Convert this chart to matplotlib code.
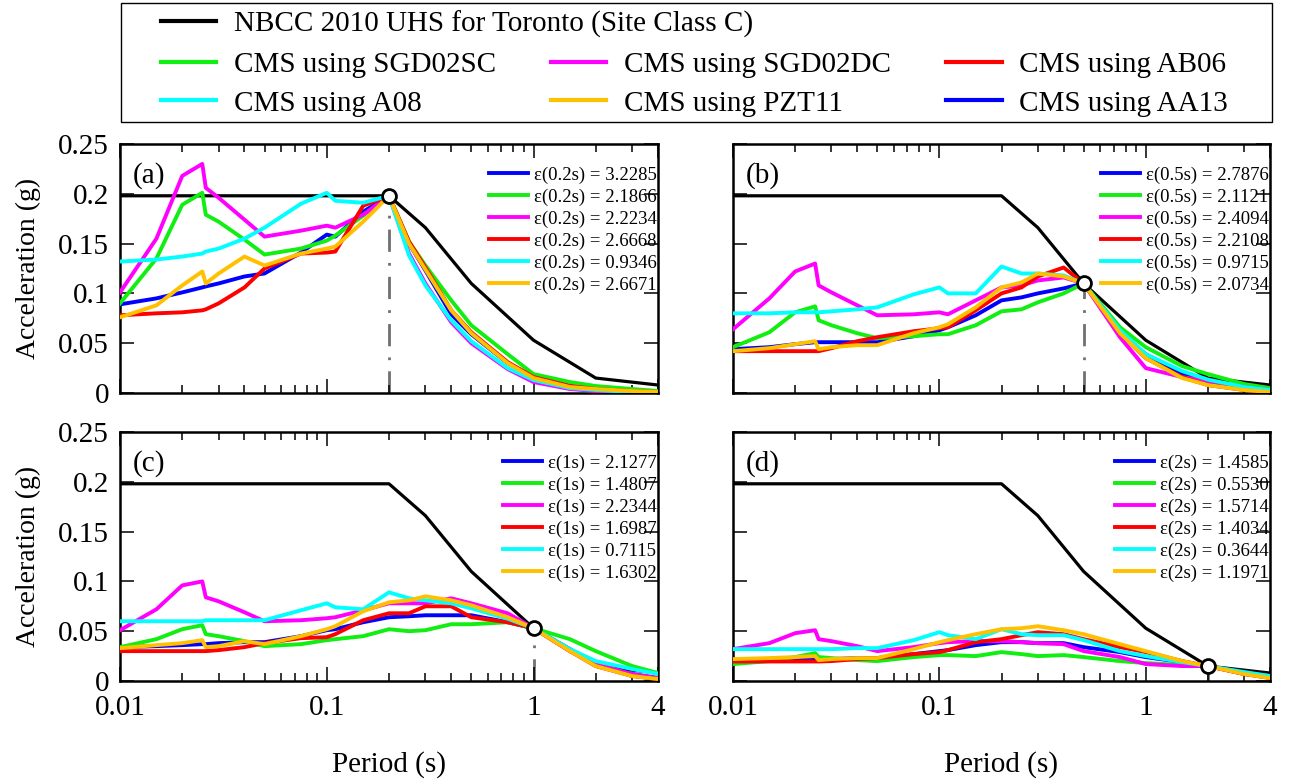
import matplotlib
matplotlib.use('Agg')
import matplotlib.pyplot as plt
from matplotlib.lines import Line2D
from matplotlib.patches import Rectangle
from matplotlib.ticker import FixedLocator, NullFormatter

plt.rcParams['font.family'] = ['Liberation Serif', 'DejaVu Serif']

# periods (s) shared by all CMS curves
periods = [0.01, 0.015, 0.02, 0.025, 0.026, 0.03, 0.04, 0.05, 0.075, 0.1, 0.11, 0.15,
           0.2, 0.25, 0.3, 0.4, 0.5, 0.75, 1, 1.5, 2, 3, 4]

# NBCC 2010 UHS, Toronto, site class C
uhs_periods = [0.01, 0.2, 0.3, 0.5, 1, 2, 4]
uhs_values = [0.198, 0.198, 0.166, 0.110, 0.053, 0.015, 0.008]

# conditioning periods
t_star = [0.2, 0.5, 1, 2]
t_star_values = [0.198, 0.110, 0.053, 0.015]
panel_tags = ['(a)', '(b)', '(c)', '(d)']
eps_names = ['0.2s', '0.5s', '1s', '2s']

# CMS, T* = 0.2 s
a_AA13 = [0.089, 0.095, 0.101, 0.106, 0.107, 0.110, 0.117, 0.120, 0.141, 0.159, 0.157, 0.182,
          0.198, 0.150, 0.123, 0.079, 0.059, 0.030, 0.016, 0.007, 0.004, 0.002, 0.001]
a_SGD02SC = [0.090, 0.135, 0.189, 0.201, 0.179, 0.172, 0.154, 0.139, 0.145, 0.153, 0.158, 0.178,
             0.198, 0.152, 0.128, 0.093, 0.068, 0.039, 0.019, 0.011, 0.007, 0.004, 0.002]
a_SGD02DC = [0.101, 0.155, 0.218, 0.230, 0.206, 0.196, 0.174, 0.157, 0.163, 0.168, 0.166, 0.179,
             0.198, 0.140, 0.110, 0.071, 0.050, 0.024, 0.011, 0.004, 0.002, 0.001, 0.0005]
a_AB06 = [0.078, 0.080, 0.081, 0.083, 0.084, 0.090, 0.106, 0.125, 0.140, 0.141, 0.142, 0.188,
          0.198, 0.152, 0.126, 0.083, 0.061, 0.031, 0.016, 0.007, 0.004, 0.002, 0.001]
a_A08 = [0.132, 0.134, 0.137, 0.140, 0.142, 0.145, 0.155, 0.166, 0.190, 0.201, 0.193, 0.191,
         0.198, 0.138, 0.108, 0.073, 0.052, 0.025, 0.013, 0.005, 0.003, 0.001, 0.0007]
a_PZT11 = [0.076, 0.088, 0.108, 0.122, 0.110, 0.120, 0.137, 0.128, 0.140, 0.145, 0.147, 0.172,
           0.198, 0.150, 0.124, 0.083, 0.060, 0.030, 0.015, 0.006, 0.004, 0.002, 0.001]
a_eps = ['3.2285', '2.1866', '2.2234', '2.6668', '0.9346', '2.6671']

# CMS, T* = 0.5 s
b_AA13 = [0.044, 0.046, 0.049, 0.051, 0.051, 0.051, 0.051, 0.051, 0.057, 0.063, 0.066, 0.078,
          0.093, 0.096, 0.100, 0.105, 0.110, 0.060, 0.039, 0.019, 0.010, 0.004, 0.002]
b_SGD02SC = [0.046, 0.061, 0.081, 0.087, 0.073, 0.068, 0.060, 0.055, 0.057, 0.059, 0.059, 0.068,
             0.082, 0.084, 0.091, 0.100, 0.110, 0.066, 0.046, 0.027, 0.019, 0.009, 0.005]
b_SGD02DC = [0.064, 0.095, 0.122, 0.130, 0.108, 0.101, 0.088, 0.078, 0.079, 0.081, 0.079, 0.093,
             0.106, 0.108, 0.113, 0.116, 0.110, 0.056, 0.025, 0.016, 0.012, 0.006, 0.003]
b_AB06 = [0.042, 0.042, 0.042, 0.042, 0.042, 0.045, 0.052, 0.056, 0.062, 0.065, 0.066, 0.083,
          0.100, 0.106, 0.117, 0.126, 0.110, 0.060, 0.035, 0.016, 0.008, 0.003, 0.001]
b_A08 = [0.080, 0.080, 0.081, 0.081, 0.081, 0.082, 0.084, 0.086, 0.099, 0.106, 0.100, 0.100,
         0.127, 0.120, 0.120, 0.118, 0.110, 0.063, 0.039, 0.022, 0.0135, 0.006, 0.003]
b_PZT11 = [0.042, 0.045, 0.049, 0.052, 0.044, 0.046, 0.048, 0.048, 0.060, 0.066, 0.069, 0.086,
           0.106, 0.111, 0.120, 0.117, 0.110, 0.060, 0.035, 0.015, 0.008, 0.003, 0.001]
b_eps = ['2.7876', '2.1121', '2.4094', '2.2108', '0.9715', '2.0734']

# CMS, T* = 1 s
c_AA13 = [0.034, 0.035, 0.036, 0.037, 0.037, 0.038, 0.039, 0.039, 0.045, 0.051, 0.052, 0.059,
          0.064, 0.065, 0.066, 0.066, 0.066, 0.059, 0.053, 0.032, 0.017, 0.007, 0.003]
c_SGD02SC = [0.034, 0.042, 0.052, 0.056, 0.047, 0.045, 0.040, 0.035, 0.037, 0.041, 0.042, 0.045,
             0.052, 0.050, 0.051, 0.057, 0.057, 0.059, 0.053, 0.042, 0.030, 0.015, 0.008]
c_SGD02DC = [0.051, 0.072, 0.096, 0.100, 0.084, 0.080, 0.069, 0.060, 0.061, 0.063, 0.064, 0.071,
             0.078, 0.078, 0.078, 0.083, 0.078, 0.068, 0.053, 0.030, 0.017, 0.007, 0.003]
c_AB06 = [0.030, 0.030, 0.030, 0.030, 0.030, 0.031, 0.034, 0.038, 0.043, 0.044, 0.047, 0.061,
          0.068, 0.068, 0.075, 0.075, 0.064, 0.059, 0.053, 0.030, 0.015, 0.005, 0.002]
c_A08 = [0.060, 0.060, 0.060, 0.060, 0.061, 0.061, 0.061, 0.061, 0.071, 0.078, 0.074, 0.072,
         0.089, 0.083, 0.081, 0.078, 0.073, 0.0625, 0.053, 0.032, 0.020, 0.012, 0.007]
c_PZT11 = [0.033, 0.036, 0.038, 0.041, 0.034, 0.035, 0.040, 0.037, 0.045, 0.052, 0.055, 0.070,
           0.079, 0.081, 0.085, 0.081, 0.076, 0.064, 0.053, 0.030, 0.015, 0.005, 0.002]
c_eps = ['2.1277', '1.4807', '2.2344', '1.6987', '0.7115', '1.6302']

# CMS, T* = 2 s
d_AA13 = [0.020, 0.021, 0.021, 0.022, 0.022, 0.022, 0.023, 0.023, 0.027, 0.030, 0.031, 0.036,
          0.039, 0.039, 0.038, 0.038, 0.034, 0.029, 0.024, 0.019, 0.015, 0.008, 0.005]
d_SGD02SC = [0.017, 0.020, 0.024, 0.028, 0.024, 0.023, 0.021, 0.020, 0.024, 0.026, 0.026, 0.025,
             0.029, 0.027, 0.025, 0.026, 0.024, 0.020, 0.018, 0.016, 0.015, 0.008, 0.005]
d_SGD02DC = [0.032, 0.038, 0.048, 0.051, 0.042, 0.040, 0.035, 0.030, 0.034, 0.038, 0.039, 0.040,
             0.040, 0.039, 0.038, 0.037, 0.030, 0.024, 0.017, 0.015, 0.015, 0.007, 0.004]
d_AB06 = [0.0196, 0.0196, 0.0196, 0.0196, 0.0196, 0.020, 0.022, 0.023, 0.027, 0.029, 0.031, 0.039,
          0.042, 0.046, 0.049, 0.047, 0.042, 0.034, 0.029, 0.020, 0.015, 0.007, 0.003]
d_A08 = [0.032, 0.032, 0.032, 0.032, 0.032, 0.032, 0.033, 0.033, 0.041, 0.049, 0.046, 0.042,
         0.052, 0.047, 0.046, 0.046, 0.041, 0.030, 0.025, 0.019, 0.015, 0.009, 0.005]
d_PZT11 = [0.022, 0.023, 0.024, 0.025, 0.021, 0.022, 0.023, 0.023, 0.032, 0.039, 0.041, 0.047,
           0.052, 0.053, 0.055, 0.051, 0.047, 0.037, 0.030, 0.020, 0.015, 0.007, 0.003]
d_eps = ['1.4585', '0.5530', '1.5714', '1.4034', '0.3644', '1.1971']

gmpes = ['AA13', 'SGD02SC', 'SGD02DC', 'AB06', 'A08', 'PZT11']
colors = ['#0000FF', '#11EE11', '#FF00FF', '#FF0000', '#00FFFF', '#FFC000']

panels = [
    [a_AA13, a_SGD02SC, a_SGD02DC, a_AB06, a_A08, a_PZT11],
    [b_AA13, b_SGD02SC, b_SGD02DC, b_AB06, b_A08, b_PZT11],
    [c_AA13, c_SGD02SC, c_SGD02DC, c_AB06, c_A08, c_PZT11],
    [d_AA13, d_SGD02SC, d_SGD02DC, d_AB06, d_A08, d_PZT11],
]
panel_eps = [a_eps, b_eps, c_eps, d_eps]

W, H = 1289, 780
fig = plt.figure(figsize=(W / 100, H / 100), dpi=100)

# axes boxes in pixels: left, top, width, height
boxes = [(120, 144, 538, 249), (733, 144, 537, 249),
         (120, 432, 538, 249), (733, 432, 537, 249)]

for i, (l, t, w, h) in enumerate(boxes):
    ax = fig.add_axes([l / W, 1 - (t + h) / H, w / W, h / H])
    ts = t_star[i]
    ax.plot(uhs_periods, uhs_values, color='black', lw=2.3, zorder=2)
    for j, vals in enumerate(panels[i]):
        ax.plot(periods, vals, color=colors[j], lw=2.8, zorder=3,
                label='\u03b5(%s) = %s' % (eps_names[i], panel_eps[i][j]))
    ax.plot([ts, ts], [0, t_star_values[i]], color='#707070', lw=2,
            ls=(0, (8, 4, 1, 4)), zorder=1)
    ax.plot(ts, t_star_values[i], 'o', ms=10, mfc='white', mec='black', mew=2, zorder=5)

    ax.set_xscale('log')
    ax.set_xlim(0.01, 4)
    ax.set_ylim(0, 0.25)
    ax.xaxis.set_major_locator(FixedLocator([0.01, 0.1, 1, 4]))
    ax.xaxis.set_minor_locator(FixedLocator([0.02, 0.03, 0.04, 0.05, 0.06, 0.07, 0.08, 0.09,
                                             0.2, 0.3, 0.4, 0.5, 0.6, 0.7, 0.8, 0.9, 2, 3]))
    ax.xaxis.set_minor_formatter(NullFormatter())
    ax.set_yticks([0, 0.05, 0.1, 0.15, 0.2, 0.25])
    ax.set_yticklabels(['0', '0.05', '0.1', '0.15', '0.2', '0.25'])
    if i >= 2:
        ax.set_xticklabels(['0.01', '0.1', '1', '4'])
        ax.set_xlabel('Period (s)', fontsize=21, labelpad=22)
    else:
        ax.set_xticklabels([])
    if i % 2 == 0:
        ax.set_ylabel('Acceleration (g)', fontsize=20, labelpad=12)
    else:
        ax.set_yticklabels([])
    ax.tick_params(which='both', direction='in', top=True, right=True, width=1.1,
                   labelsize=21)
    ax.tick_params(which='major', length=10)
    ax.tick_params(axis='x', which='major', pad=10)
    ax.tick_params(axis='y', which='major', pad=8)
    ax.tick_params(which='minor', length=6)
    for s in ax.spines.values():
        s.set_linewidth(1.8)

    ax.text(0.024, 0.875, panel_tags[i], transform=ax.transAxes, fontsize=21, va='center')
    ax.legend(loc='upper right', bbox_to_anchor=(0.997, 0.91), frameon=False,
              fontsize=13.5, handlelength=2.1, handletextpad=0.3, labelspacing=0.25,
              borderpad=0, borderaxespad=0)

# shared legend at the top
box = Rectangle((121 / W, 1 - 122 / H), 1151 / W, 119 / H, transform=fig.transFigure,
                fill=False, edgecolor='black', lw=1.0)
fig.patches.append(box)

uhs_handle = [Line2D([], [], color='black', lw=3)]
fig.legend(uhs_handle, ['NBCC 2010 UHS for Toronto (Site Class C)'], loc='upper left',
           bbox_to_anchor=(146 / W, 1 + 4 / H), frameon=False, fontsize=21,
           handlelength=1.9, handletextpad=0.6, borderpad=0)

order = [1, 4, 2, 5, 3, 0]  # column-wise: SGD02SC, A08 | SGD02DC, PZT11 | AB06, AA13
cms_handles = [Line2D([], [], color=colors[k], lw=3) for k in order]
cms_labels = ['CMS using ' + gmpes[k] for k in order]
fig.legend(cms_handles, cms_labels, loc='upper left', ncol=3,
           bbox_to_anchor=(146 / W, 1 - 37 / H), frameon=False, fontsize=21,
           handlelength=1.9, handletextpad=0.6, columnspacing=1.9, labelspacing=0.42,
           borderpad=0)

fig.savefig('out.png', dpi=100)
